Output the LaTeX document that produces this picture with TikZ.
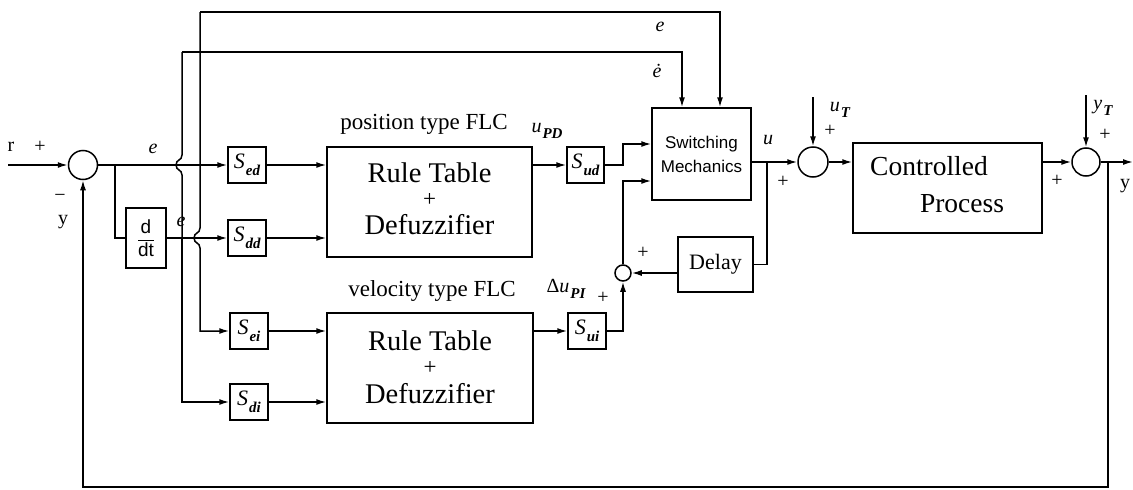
\documentclass[tikz,border=0pt]{standalone}
\usepackage{fontspec}
\setmainfont{Liberation Serif}
\setsansfont{Liberation Sans}
\usetikzlibrary{arrows.meta}
\newcommand{\SSub}[2]{\textit{#1}\hspace{1pt}\raisebox{-0.3em}{\fontsize{15}{15}\selectfont\bfseries\itshape #2}}
\begin{document}
\begin{tikzpicture}[x=1pt,y=-1pt, line width=1.5pt,
  >={Latex[length=10pt,width=6pt]},
  blk/.style={draw, rectangle, inner sep=0pt},
  sbox/.style={blk, minimum width=38pt, minimum height=36pt, font=\fontsize{22}{24}\selectfont},
  sumc/.style={draw, circle, minimum size=29pt, inner sep=0pt},
  lbl/.style={font=\fontsize{20}{22}\selectfont, inner sep=0pt},
  big/.style={font=\fontsize{28.5}{29}\selectfont, inner sep=0pt},
  bigplus/.style={font=\fontsize{23}{23}\selectfont, inner sep=0pt},
  captxt/.style={font=\fontsize{23}{24}\selectfont, inner sep=0pt}]
\useasboundingbox (0,0) rectangle (1133,490);

% blocks
\node[sumc] (s1) at (83,165) {};
\node[blk, minimum width=40pt, minimum height=60pt] (ddt) at (146,238)
  {\sffamily\fontsize{19}{20}\selectfont$\displaystyle\frac{\mbox{d}}{\mbox{dt}}$};
\node[sbox] (Sed) at (247,165) {\SSub{S}{ed}};
\node[sbox] (Sdd) at (247,238) {\SSub{S}{dd}};
\node[sbox] (Sei) at (249,331) {\SSub{S}{ei}};
\node[sbox] (Sdi) at (249,402) {\SSub{S}{di}};
\node[blk, minimum width=205pt, minimum height=110pt] (R1) at (429.5,202) {};
\node[big] (r1a) at (429.5,173) {Rule Table};
\node[bigplus] (r1b) at (429.5,200) {+};
\node[big] (r1c) at (429.5,225) {Defuzzifier};
\node[blk, minimum width=206pt, minimum height=110pt] (R2) at (430,368) {};
\node[big] (r2a) at (430,341) {Rule Table};
\node[bigplus] (r2b) at (430,368) {+};
\node[big] (r2c) at (430,394) {Defuzzifier};
\node[sbox, minimum width=37pt] (Sud) at (585.5,165) {\SSub{S}{ud}};
\node[sbox] (Sui) at (587,331) {\SSub{S}{ui}};
\node[blk, align=center, minimum width=99pt, minimum height=92pt, font=\sffamily\fontsize{17}{24}\selectfont] (SW) at (701.5,154) {Switching\\Mechanics};
\node[draw, circle, minimum size=16pt, inner sep=0pt] (sj) at (623,273) {};
\node[blk, minimum width=75pt, minimum height=55pt, font=\fontsize{22}{24}\selectfont] (Delay) at (715.5,264.5) {Delay};
\node[sumc, minimum size=30pt] (s2) at (813,162) {};
\node[blk, minimum width=189pt, minimum height=90pt] (CP) at (947.5,188) {};
\node[font=\fontsize{27.5}{28}\selectfont, inner sep=0pt] (cpt1) at (929,166) {Controlled};
\node[font=\fontsize{27.5}{28}\selectfont, inner sep=0pt] (cpt2) at (962,204) {Process};
\node[sumc, minimum size=28pt] (s3) at (1086,162) {};

% coordinates
\coordinate (rin) at (8,165);
\coordinate (b1) at (115,165);
\coordinate (dtop) at (182,52);
\coordinate (djn) at (182,238);
\coordinate (etop) at (200,12);
\coordinate (k1) at (623,144);
\coordinate (y181) at (0,181);
\coordinate (ub) at (767,162);
\coordinate (uT) at (813,97);
\coordinate (yT) at (1086,95);
\coordinate (yout) at (1133,162);
\coordinate (fb) at (1108,162);
\coordinate (fbb) at (1108,487);

% connectors
\draw[->] (rin) -- (s1.west);
\draw (s1.east) -- (b1);
\draw[->] (b1) -- (Sed.west);
\draw (b1) |- (ddt.west);
\draw[->] (ddt.east) -- (Sdd.west);
\draw (dtop) -- (182,155) .. controls (182,161) and (176,159) .. (176,165) .. controls (176,171) and (182,169) .. (182,175) -- (djn);
\draw[->] (djn) |- (Sdi.west);
\draw[->] (etop) -- (200,228) .. controls (200,234) and (194,232) .. (194,238) .. controls (194,244) and (200,242) .. (200,248) |- (Sei.west);
\draw[->] (etop) -| ([xshift=18.5pt]SW.north);
\draw[->] (dtop) -| ([xshift=-19.5pt]SW.north);
\draw[->] (Sed.east) -- (Sed.east -| R1.west);
\draw[->] (Sdd.east) -- (Sdd.east -| R1.west);
\draw[->] (Sei.east) -- (Sei.east -| R2.west);
\draw[->] (Sdi.east) -- (Sdi.east -| R2.west);
\draw[->] (Sud.west -| R1.east) -- (Sud.west);
\draw[->] (Sui.west -| R2.east) -- (Sui.west);
\draw[->] (Sud.east) -| (k1) -- (k1 -| SW.west);
\draw[->] (Sui.east) -| (sj.south);
\draw[->] (sj.north) |- (SW.west |- y181);
\draw[->] (Delay.west |- sj) -- (sj.east);
\draw (SW.east |- ub) -- (ub);
\draw[->] (ub) -- (s2.west);
\draw (ub) |- (Delay.east);
\draw[->] (uT) -- (s2.north);
\draw[->] (s2.east) -- (s2.east -| CP.west);
\draw[->] (CP.east |- s3) -- (s3.west);
\draw[->] (yT) -- (s3.north);
\draw[->] (s3.east) -- (yout);
\draw[->] (fb) -- (fbb) -| (s1.south);

% labels
\node[lbl] (lr) at (11,147) {r};
\node[lbl] (lp1) at (40,147) {+};
\node[lbl] (lm1) at (60,198) {−};
\node[lbl] (ly1) at (63,222) {y};
\node[lbl] (le1) at (153,149) {\textit{e}};
\node[lbl] (le2) at (181,222) {\textit{e}};
\node[lbl] (le3) at (660,27) {\textit{e}};
\node[lbl] (le4) at (657,71) {\textit{\.e}};
\node[captxt] (lpos) at (424,124) {position type FLC};
\node[captxt] (lvel) at (432,291) {velocity type FLC};
\node[lbl] (lupd) at (547,131) {\SSub{u}{PD}};
\node[lbl] (lupi) at (566,289) {Δ\SSub{u}{PI}};
\node[lbl] (lp2) at (603,298) {+};
\node[lbl] (lp3) at (643,253) {+};
\node[lbl] (lu) at (768,140) {\textit{u}};
\node[lbl] (lp4) at (783,182) {+};
\node[lbl] (luT) at (840,110) {\SSub{u}{T}};
\node[lbl] (lp5) at (830,131) {+};
\node[lbl] (lyT) at (1103,108) {\SSub{y}{T}};
\node[lbl] (lp6) at (1105,135) {+};
\node[lbl] (lp7) at (1057,181) {+};
\node[lbl] (ly2) at (1125,186) {y};
\end{tikzpicture}
\end{document}
